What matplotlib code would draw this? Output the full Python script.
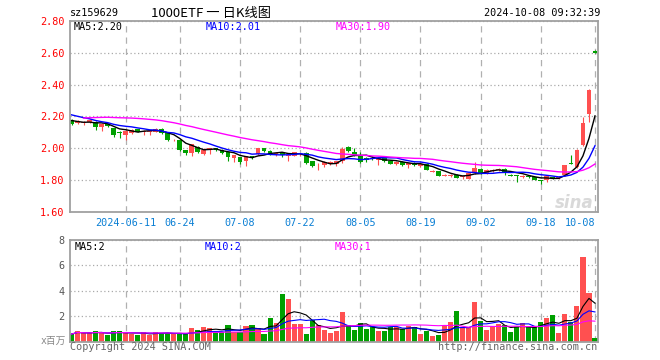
import matplotlib
matplotlib.use("Agg")
import matplotlib.pyplot as plt
import numpy as np
import pandas as pd

plt.rcParams['font.family'] = ['DejaVu Sans Mono', 'Noto Sans CJK SC']

# === 1. Datos ===
fechas_tick = ["2024-06-11", "06-24", "07-08", "07-22", "08-05", "08-19", "09-02", "09-18", "10-08"]
pos_tick = [9, 18, 28, 38, 48, 58, 68, 78, 87]

apertura = [2.179, 2.160, 2.158, 2.165, 2.168, 2.133, 2.154, 2.126, 2.105, 2.086,
            2.095, 2.120, 2.105, 2.103, 2.105, 2.120, 2.095, 2.050, 2.053, 1.989,
            1.973, 2.011, 1.964, 1.996, 2.000, 1.993, 1.979, 1.941, 1.943, 1.919,
            1.950, 1.965, 2.000, 1.985, 1.965, 1.970, 1.950, 1.955, 1.963, 1.970,
            1.919, 1.887, 1.894, 1.905, 1.905, 1.919, 2.006, 1.980, 1.950, 1.940,
            1.940, 1.930, 1.945, 1.920, 1.905, 1.915, 1.895, 1.908, 1.888, 1.904,
            1.855, 1.858, 1.830, 1.830, 1.835, 1.820, 1.810, 1.846, 1.873, 1.846,
            1.858, 1.863, 1.873, 1.833, 1.832, 1.820, 1.826, 1.820, 1.798, 1.800,
            1.817, 1.815, 1.831, 1.906, 1.883, 2.019, 2.217, 2.610]
maximo = [2.185, 2.178, 2.172, 2.182, 2.172, 2.158, 2.160, 2.130, 2.108, 2.115,
          2.120, 2.123, 2.114, 2.114, 2.126, 2.126, 2.097, 2.060, 2.055, 1.992,
          2.030, 2.015, 2.000, 2.003, 2.004, 1.996, 1.980, 1.960, 1.946, 1.953,
          1.955, 2.002, 2.003, 1.990, 1.975, 1.972, 1.962, 1.980, 1.970, 1.975,
          1.920, 1.909, 1.918, 1.920, 1.923, 2.006, 2.012, 2.000, 1.980, 1.945,
          1.950, 1.945, 1.950, 1.925, 1.918, 1.920, 1.910, 1.912, 1.906, 1.906,
          1.862, 1.860, 1.838, 1.840, 1.838, 1.828, 1.848, 1.915, 1.877, 1.870,
          1.872, 1.880, 1.876, 1.838, 1.835, 1.833, 1.830, 1.823, 1.800, 1.828,
          1.822, 1.825, 1.896, 1.956, 1.995, 2.196, 2.370, 2.615]
minimo = [2.147, 2.155, 2.145, 2.160, 2.116, 2.112, 2.135, 2.070, 2.063, 2.053,
          2.090, 2.100, 2.084, 2.084, 2.100, 2.090, 2.048, 2.045, 1.985, 1.956,
          1.955, 1.970, 1.960, 1.962, 1.985, 1.968, 1.920, 1.916, 1.900, 1.888,
          1.935, 1.960, 1.975, 1.960, 1.950, 1.945, 1.919, 1.950, 1.955, 1.905,
          1.882, 1.867, 1.885, 1.895, 1.888, 1.910, 1.980, 1.955, 1.910, 1.915,
          1.925, 1.898, 1.915, 1.900, 1.898, 1.888, 1.877, 1.888, 1.882, 1.862,
          1.850, 1.826, 1.825, 1.822, 1.812, 1.806, 1.806, 1.840, 1.840, 1.840,
          1.850, 1.858, 1.831, 1.825, 1.790, 1.815, 1.812, 1.800, 1.775, 1.790,
          1.810, 1.810, 1.828, 1.900, 1.880, 2.015, 2.165, 2.600]
cierre = [2.154, 2.170, 2.165, 2.175, 2.137, 2.154, 2.141, 2.084, 2.095, 2.112,
          2.116, 2.105, 2.111, 2.110, 2.120, 2.095, 2.053, 2.053, 1.989, 1.973,
          2.027, 1.979, 1.989, 2.000, 1.989, 1.973, 1.945, 1.958, 1.916, 1.950,
          1.940, 2.000, 1.985, 1.965, 1.970, 1.960, 1.960, 1.975, 1.966, 1.910,
          1.888, 1.890, 1.915, 1.915, 1.920, 1.998, 1.985, 1.960, 1.915, 1.930,
          1.935, 1.940, 1.920, 1.905, 1.915, 1.898, 1.908, 1.895, 1.904, 1.867,
          1.858, 1.830, 1.833, 1.834, 1.817, 1.823, 1.846, 1.879, 1.846, 1.867,
          1.862, 1.873, 1.846, 1.830, 1.828, 1.830, 1.818, 1.804, 1.796, 1.825,
          1.815, 1.820, 1.894, 1.904, 1.990, 2.158, 2.367, 2.600]
# cierres anteriores a la ventana (estimados a partir de las medias moviles)
cierre_previo = [2.10, 2.11, 2.12, 2.12, 2.13, 2.14, 2.14, 2.15, 2.17, 2.19,
                 2.21, 2.22, 2.24, 2.25, 2.24, 2.23, 2.25, 2.25, 2.26, 2.25,
                 2.25, 2.24, 2.23, 2.20, 2.19, 2.17, 2.16]
# volumen en millones
volumen = [0.59, 0.85, 0.65, 0.65, 0.83, 0.65, 0.52, 0.83, 0.83, 0.65,
           0.57, 0.52, 0.78, 0.52, 0.78, 0.65, 0.65, 0.59, 0.59, 0.59,
           1.04, 0.91, 1.12, 1.04, 0.78, 0.78, 1.30, 0.78, 0.78, 1.22,
           1.30, 1.04, 0.59, 1.82, 1.43, 3.73, 3.39, 1.38, 1.38, 0.59,
           1.69, 1.30, 0.91, 0.70, 0.86, 2.34, 1.30, 0.91, 1.43, 1.00,
           1.12, 0.83, 0.83, 1.12, 1.12, 0.96, 1.25, 1.12, 0.60, 0.86,
           0.44, 0.52, 1.22, 1.56, 2.39, 1.12, 1.12, 3.10, 1.61, 0.91,
           1.22, 1.38, 1.30, 0.75, 1.12, 1.43, 1.12, 1.12, 1.53, 1.85,
           2.06, 0.65, 2.16, 1.53, 2.79, 6.70, 3.83, 0.26]

# === 2. Calculos ===
o = np.array(apertura)
h = np.array(maximo)
l = np.array(minimo)
c = np.array(cierre)
v = np.array(volumen)
x = np.arange(len(c))

rojo = '#ff5050'
verde = '#00a000'
col = np.where(c >= o, rojo, verde)

todo = pd.Series(cierre_previo + cierre)
n0 = len(cierre_previo)
ma5 = todo.rolling(5).mean().to_numpy()[n0:]
ma10 = todo.rolling(10).mean().to_numpy()[n0:]
ma30 = todo.rolling(30).mean().to_numpy()[n0:]

sv = pd.Series(volumen)
vma5 = sv.rolling(5, min_periods=1).mean()
vma10 = sv.rolling(10, min_periods=1).mean()
vma30 = sv.rolling(30, min_periods=1).mean()

# === 3. Figura ===
W, H = 660, 360
fig = plt.figure(figsize=(6.6, 3.6), dpi=100)
fig.patch.set_facecolor('white')


def px(xp, yp):
    return xp / W, 1 - yp / H


ax1 = fig.add_axes([70 / W, 1 - 212.2 / H, 528 / W, 191.4 / H])
ax2 = fig.add_axes([70 / W, 1 - 341.6 / H, 528 / W, 101.6 / H])

gris_borde = '#a0a0a0'
for ax in (ax1, ax2):
    ax.set_xlim(-0.25, 87.5)
    for s in ax.spines.values():
        s.set_color(gris_borde)
        s.set_linewidth(1.3)
    ax.set_xticks(pos_tick)
    ax.grid(axis='x', linestyle=(0, (5, 4)), color='#b0b0b0', linewidth=0.9)
    ax.grid(axis='y', linestyle=(0, (1, 2)), color='#aaaaaa', linewidth=0.9)
    ax.set_axisbelow(True)
    ax.tick_params(length=0)

# --- velas ---
ax1.vlines(x, l, h, colors=col, linewidth=0.8)
ax1.bar(x, np.maximum(np.abs(c - o), 0.004), bottom=np.minimum(o, c),
        width=0.8, color=col, linewidth=0)
ax1.plot(x, ma5, color='black', linewidth=1.0)
ax1.plot(x, ma10, color='#0000ff', linewidth=1.0)
ax1.plot(x, ma30, color='#ff00ff', linewidth=1.0)

ax1.set_ylim(1.6, 2.8)
yt = np.round(np.arange(1.6, 2.81, 0.2), 2)
ax1.set_yticks(yt)
ax1.set_yticklabels(["%.2f" % t for t in yt], color='#ff0000', fontsize=7.3)
ax1.set_xticklabels(fechas_tick, color='#0a7fd4', fontsize=7.3)
ax1.tick_params(axis='y', pad=4)
ax1.tick_params(axis='x', pad=4)
ax1.get_xticklabels()[-1].set_horizontalalignment('right')
ax1.get_xticklabels()[-1].set_x(87.6)

# --- volumen ---
ax2.bar(x, v, width=0.85, color=col, linewidth=0)
ax2.plot(x, vma5, color='black', linewidth=0.8)
ax2.plot(x, vma10, color='#0000ff', linewidth=0.8)
ax2.plot(x, vma30, color='#ff00ff', linewidth=0.8)
ax2.set_ylim(0, 8)
ax2.set_yticks([2, 4, 6, 8])
ax2.set_yticklabels(["2", "4", "6", "8"], color='#555555', fontsize=7.3)
ax2.tick_params(axis='y', pad=4)
ax2.set_xticklabels([])

# === 4. Textos ===
fig.text(*px(70, 13), "sz159629", va='center', ha='left', fontsize=7.3)
fig.text(*px(151, 13), "1000ETF 一 日K线图", va='center', ha='left',
         fontsize=9.5, family=['Noto Sans CJK SC'])
fig.text(*px(600, 13), "2024-10-08 09:32:39", va='center', ha='right', fontsize=7.3)

fig.text(*px(74, 27), "MA5:2.20", va='center', fontsize=7.3, color='black')
fig.text(*px(206, 27), "MA10:2.01", va='center', fontsize=7.3, color='#0000ff')
fig.text(*px(336, 27), "MA30:1.90", va='center', fontsize=7.3, color='#ff00ff')

fig.text(*px(75, 247), "MA5:2", va='center', fontsize=7.3, color='black')
fig.text(*px(205, 247), "MA10:2", va='center', fontsize=7.3, color='#0000ff')
fig.text(*px(335, 247), "MA30:1", va='center', fontsize=7.3, color='#ff00ff')

fig.text(*px(66, 341), "x百万", va='center', ha='right', fontsize=7, color='#888888')
fig.text(*px(70, 347), "Copyright 2024 SINA.COM", va='center', ha='left',
         fontsize=7.3, color='#666666')
fig.text(*px(597, 347), "http://finance.sina.com.cn", va='center', ha='right',
         fontsize=7.3, color='#666666')

# marca de agua
fig.text(*px(574, 203), "sina", va='center', ha='center', fontsize=12,
         color='#d9d9d9', style='italic', weight='bold', family=['DejaVu Sans'])

fig.savefig("out.png", dpi=100, facecolor='white')
